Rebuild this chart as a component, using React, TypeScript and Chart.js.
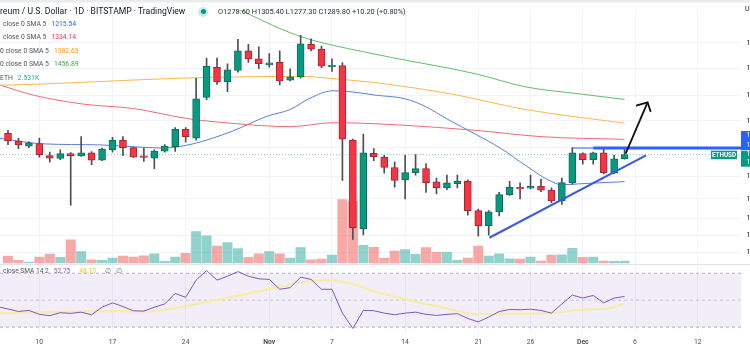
import React, { useEffect, useRef } from 'react';
import { Chart, registerables } from 'chart.js';

Chart.register(...registerables);

const FONT = "Roboto, 'Liberation Sans', sans-serif";

// ---- Daily candles, Oct 7 (day 0) .. Dec 5 (day 59), ETH/USD Bitstamp ----
const open = [1352, 1329, 1314, 1322, 1287, 1279, 1293, 1286, 1295, 1274, 1304, 1331, 1310, 1285, 1280, 1300, 1313, 1364, 1338, 1463, 1564, 1514, 1553, 1622, 1593, 1572, 1581, 1520, 1531, 1645, 1628, 1566, 1570, 1332, 1095, 1294, 1283, 1254, 1220, 1240, 1251, 1215, 1199, 1210, 1216, 1140, 1103, 1137, 1181, 1200, 1198, 1203, 1193, 1165, 1212, 1293, 1276, 1295, 1238, 1278.6];
const high = [1361, 1337, 1328, 1338, 1297, 1304, 1296, 1342, 1299, 1309, 1340, 1342, 1312, 1309, 1304, 1319, 1369, 1369, 1526, 1596, 1596, 1576, 1663, 1645, 1636, 1612, 1622, 1559, 1678, 1665, 1639, 1593, 1580, 1335, 1350, 1307, 1288, 1270, 1288, 1290, 1265, 1225, 1233, 1233, 1220, 1144, 1140, 1187, 1216, 1212, 1233, 1222, 1199, 1225, 1310, 1295, 1297, 1307, 1288, 1305.4];
const low = [1319, 1307, 1310, 1283, 1269, 1276, 1154, 1285, 1262, 1273, 1297, 1287, 1282, 1271, 1251, 1297, 1299, 1326, 1332, 1456, 1506, 1482, 1547, 1581, 1559, 1564, 1504, 1518, 1527, 1621, 1563, 1550, 1219, 1070, 1081, 1273, 1238, 1201, 1170, 1233, 1187, 1183, 1194, 1199, 1129, 1078, 1080, 1127, 1179, 1170, 1196, 1189, 1160, 1156, 1209, 1263, 1263, 1236, 1237, 1277.3];
const close = [1330, 1318, 1324, 1290, 1280, 1293, 1287, 1295, 1274, 1306, 1331, 1310, 1283, 1282, 1300, 1314, 1364, 1342, 1459, 1567, 1514, 1555, 1622, 1593, 1576, 1579, 1518, 1531, 1647, 1628, 1568, 1568, 1335, 1098, 1295, 1284, 1254, 1219, 1240, 1251, 1213, 1199, 1212, 1216, 1140, 1103, 1137, 1181, 1200, 1196, 1203, 1193, 1165, 1213, 1295, 1276, 1295, 1240, 1278, 1289.8];
// volume in thousands of ETH
const volumeK = [9.8, 3.8, 1.4, 8.4, 12.6, 8.0, 33.2, 16.4, 4.6, 3.8, 7.0, 9.8, 8.4, 10.2, 13.0, 2.4, 8.4, 13.6, 44.8, 38.8, 24.2, 29.0, 20.6, 8.0, 13.0, 16.4, 13.0, 7.0, 22.0, 4.6, 5.6, 11.2, 90.6, 88.2, 25.2, 22.4, 7.0, 16.8, 19.2, 12.2, 22.0, 15.0, 15.0, 3.8, 7.0, 24.2, 9.8, 13.0, 6.0, 5.6, 8.4, 2.8, 11.2, 11.6, 21.0, 8.0, 8.4, 2.8, 2.4, 2.531];

// ---- Moving averages (day index, value) ----
const ma20Days = [-0.77, 3.35, 8.8, 12.9, 14.8, 17.7, 21.5, 24.8, 27.0, 28.9, 31.1, 33.0, 35.1, 38.0, 39.9, 42.1, 44.7, 47.2, 49.5, 51.7, 53.0, 54.9, 59.0];
const ma20Vals = [1337, 1321, 1318, 1311, 1309, 1321, 1359, 1404, 1425, 1461, 1485, 1481, 1471, 1459, 1435, 1394, 1350, 1307, 1260, 1220, 1207, 1210, 1215.54];
const ma50Days = [-0.77, 2.4, 7.2, 12.0, 17.1, 21.5, 27.0, 31.1, 35.1, 44.7, 51.1, 59.0];
const ma50Vals = [1504, 1471, 1442, 1428, 1397, 1382, 1372, 1384, 1381, 1361, 1342, 1334.14];
const ma100Days = [-0.77, 3.06, 17.7, 27.9, 31.8, 35.1, 42.5, 49.5, 59.0];
const ma100Vals = [1503, 1507, 1528, 1533, 1523, 1512, 1474, 1425, 1382.63];
const ma200Days = [21.5, 27.9, 35.1, 44.7, 49.5, 54.9, 59.0];
const ma200Vals = [1787, 1675, 1610, 1542, 1498, 1474, 1456.89];

// ---- RSI 14 and its SMA 14 ----
const rsiLeadDay = -0.77;
const rsiLeadVal = 44.8;
const rsi = [43.5, 41.6, 42.4, 39.5, 38.5, 40.7, 40.2, 41.1, 39.2, 44.8, 48.0, 45.3, 42.1, 41.9, 44.8, 47.2, 55.0, 52.1, 64.9, 72.0, 64.9, 67.8, 71.2, 67.8, 65.9, 65.4, 58.1, 59.3, 67.1, 65.4, 58.1, 58.1, 40.4, 29.0, 42.4, 42.2, 40.4, 39.2, 40.4, 41.1, 39.5, 38.7, 39.5, 40.0, 36.4, 33.9, 37.5, 41.6, 43.1, 42.9, 43.3, 42.4, 40.4, 47.2, 53.8, 51.6, 53.5, 48.0, 51.6, 52.75];
const rsiMaDays = [-0.77, 4.0, 8.8, 13.6, 16.7, 20.0, 23.2, 26.3, 28.6, 30.8, 33.0, 35.1, 38.3, 41.5, 45.0, 47.9, 51.7, 54.9, 57.5, 59.0];
const rsiMaVals = [40.4, 41.1, 41.9, 41.9, 45.3, 50.1, 55.2, 60.5, 63.7, 64.7, 61.8, 56.4, 50.1, 44.8, 39.5, 40.0, 40.4, 42.9, 44.0, 47.5];
const rsiLevels = [70, 50, 30];

// ---- Drawings (day index, price) ----
const trendDays = [46.06, 61.05];
const trendPrices = [1074, 1288];
const arrowShaftDays = [59.1, 61.2];
const arrowShaftPrices = [1292.6, 1447.8];
const arrowHeadDays = [60.1, 61.2, 61.5];
const arrowHeadPrices = [1437, 1447.8, 1417.5];
const hLinePrice = 1309;
const hLineThinDays = [54.07, 56];
const hLineThickDays = [56, 70.14];

// ---- Axes ----
const X_MIN = -0.766;
const X_MAX = 70.14;
const tickDays = [3, 10, 17, 25, 31, 38, 45, 50, 55, 60, 66];
const tickLabels = ['10', '17', '24', 'Nov', '7', '14', '21', '26', 'Dec', '6', '12'];
const boldTicks = ['Nov', 'Dec'];
const priceTicks = [1040, 1080, 1120, 1170, 1230, 1310, 1390, 1470, 1560, 1650];
const PRICE_MIN = 870.6;
const PRICE_MAX = 1775.6;
const RSI_MIN = 25.64;
const RSI_MAX = 265.64;
const VOL_MIN = -100.1;
const VOL_MAX = 361.9;
const blueTagTexts = ['1346.20', '1309.00'];
const greenTagTexts = ['1289.80', '10:42:17'];

const N = close.length;
const days = close.map((_, i) => i);
const isUp = days.map((i) => close[i] >= open[i]);
const pts = (xs: number[], ys: number[]) => xs.map((x, i) => ({ x, y: ys[i] }));

const decor = {
  id: 'decor',
  beforeDraw(chart: any) {
    const { ctx } = chart;
    ctx.save();
    ctx.fillStyle = '#ffffff';
    ctx.fillRect(0, 0, chart.width, chart.height);
    ctx.fillStyle = '#e9ebf0';
    ctx.fillRect(0, 0, chart.width, 2.5);
    ctx.restore();
  },
  beforeDatasetsDraw(chart: any) {
    const { ctx } = chart;
    ctx.save();
    ctx.strokeStyle = '#e0e3eb';
    ctx.lineWidth = 1;
    ctx.beginPath();
    ctx.moveTo(0, 264.5);
    ctx.lineTo(chart.width, 264.5);
    ctx.stroke();
    ctx.restore();
  },
  afterDraw(chart: any) {
    const { ctx, chartArea: ca } = chart;
    const ys = chart.scales.y;
    const yl = ys.getPixelForValue(hLinePrice);
    const yc = ys.getPixelForValue(close[N - 1]);
    ctx.save();
    ctx.textBaseline = 'middle';
    ctx.textAlign = 'left';
    ctx.font = `7px ${FONT}`;
    ctx.fillStyle = '#2962ff';
    ctx.fillRect(ca.right, yl - 17, chart.width - ca.right, 19);
    ctx.fillStyle = '#ffffff';
    ctx.fillText(blueTagTexts[0], ca.right + 5.5, yl - 12.5);
    ctx.fillText(blueTagTexts[1], ca.right + 5.5, yl - 3);
    ctx.fillStyle = '#089981';
    ctx.fillRect(ca.right, yc - 4, chart.width - ca.right, 16);
    ctx.fillStyle = '#ffffff';
    ctx.fillText(greenTagTexts[0], ca.right + 5.5, yc);
    ctx.fillText(greenTagTexts[1], ca.right + 5.5, yc + 7.5);
    ctx.fillStyle = '#089981';
    ctx.fillRect(ca.right - 30, yc - 4, 26, 8.5);
    ctx.fillStyle = '#ffffff';
    ctx.font = `bold 6.3px ${FONT}`;
    ctx.textAlign = 'center';
    ctx.fillText('ETHUSD', ca.right - 17, yc + 0.3);
    ctx.restore();
  },
};

const lineDs = (label: string, data: any[], color: string, width: number, axis: string, order: number, extra: any = {}) => ({
  type: 'line' as const,
  label,
  data,
  yAxisID: axis,
  borderColor: color,
  borderWidth: width,
  pointRadius: 0,
  fill: false,
  order,
  ...extra,
});

function buildConfig(): any {
  const datasets: any[] = [
    {
      type: 'bar',
      label: 'Volume',
      data: days.map((i) => ({ x: i, y: volumeK[i] })),
      yAxisID: 'yv',
      backgroundColor: days.map((i) => (isUp[i] ? 'rgba(38,166,154,0.5)' : 'rgba(239,83,80,0.5)')),
      barThickness: 9.4,
      grouped: false,
      order: 100,
    },
    lineDs('MA 200', pts(ma200Days, ma200Vals), '#66bb6a', 1, 'y', 50, { cubicInterpolationMode: 'monotone' }),
    lineDs('MA 100', pts(ma100Days, ma100Vals), '#ffb74d', 1, 'y', 50, { cubicInterpolationMode: 'monotone' }),
    lineDs('MA 50', pts(ma50Days, ma50Vals), '#ef6b73', 1, 'y', 50, { cubicInterpolationMode: 'monotone' }),
    lineDs('MA 20', pts(ma20Days, ma20Vals), '#5b7fdc', 1, 'y', 50, { cubicInterpolationMode: 'monotone' }),
    lineDs('Last', [{ x: X_MIN, y: close[N - 1] }, { x: X_MAX, y: close[N - 1] }], 'rgba(8,153,129,0.55)', 1, 'y', 45, { borderDash: [1, 2] }),
    {
      type: 'bar',
      label: 'Wicks',
      data: days.map((i) => ({ x: i, y: [low[i], high[i]] })),
      yAxisID: 'y',
      backgroundColor: '#4d4f57',
      barThickness: 1,
      grouped: false,
      order: 20,
    },
    {
      type: 'bar',
      label: 'Bodies',
      data: days.map((i) => ({ x: i, y: [open[i], close[i]] })),
      yAxisID: 'y',
      backgroundColor: days.map((i) => (isUp[i] ? '#089981' : '#f23645')),
      borderColor: days.map((i) => (isUp[i] ? '#0a6e5d' : '#a82530')),
      borderWidth: 1,
      borderSkipped: false,
      minBarLength: 1.5,
      barThickness: 7,
      grouped: false,
      order: 10,
    },
    lineDs('Trend', pts(trendDays, trendPrices), '#3a5bd9', 2, 'y', 2),
    lineDs('HThin', hLineThinDays.map((x) => ({ x, y: hLinePrice })), '#2962ff', 1.2, 'y', 2),
    lineDs('HThick', hLineThickDays.map((x) => ({ x, y: hLinePrice })), '#2962ff', 3, 'y', 2),
    lineDs('Arrow', pts(arrowShaftDays, arrowShaftPrices), '#111111', 1.8, 'y', 1),
    lineDs('ArrowHead', pts(arrowHeadDays, arrowHeadPrices), '#111111', 1.8, 'y', 1),
    // RSI pane
    lineDs('RSI70', [{ x: X_MIN, y: rsiLevels[0] }, { x: X_MAX, y: rsiLevels[0] }], 'rgba(120,123,134,0.55)', 1, 'yr', 60, {
      borderDash: [3, 3],
      fill: '+1',
      backgroundColor: 'rgba(126,87,194,0.1)',
    }),
    lineDs('RSI30', [{ x: X_MIN, y: rsiLevels[2] }, { x: X_MAX, y: rsiLevels[2] }], 'rgba(120,123,134,0.55)', 1, 'yr', 60, { borderDash: [3, 3] }),
    lineDs('RSI50', [{ x: X_MIN, y: rsiLevels[1] }, { x: X_MAX, y: rsiLevels[1] }], 'rgba(120,123,134,0.35)', 1, 'yr', 60, { borderDash: [3, 3] }),
    lineDs('RSI MA', pts(rsiMaDays, rsiMaVals), 'rgba(246,236,160,0.95)', 2.2, 'yr', 30, { cubicInterpolationMode: 'monotone' }),
    lineDs('RSI', [{ x: rsiLeadDay, y: rsiLeadVal }, ...days.map((i) => ({ x: i, y: rsi[i] }))], '#7e57c2', 1, 'yr', 25),
  ];

  return {
    type: 'bar',
    data: { datasets },
    plugins: [decor],
    options: {
      responsive: false,
      maintainAspectRatio: false,
      animation: false,
      events: [],
      layout: { padding: { top: 3, left: 0, right: 0, bottom: 0 } },
      plugins: { legend: { display: false }, tooltip: { enabled: false } },
      elements: { point: { radius: 0 } },
      scales: {
        x: {
          type: 'linear',
          min: X_MIN,
          max: X_MAX,
          offset: false,
          bounds: 'data',
          border: { display: false },
          grid: { color: '#f0f3fa', drawTicks: false, offset: false },
          afterBuildTicks: (s: any) => {
            s.ticks = tickDays.map((v) => ({ value: v }));
          },
          afterFit: (s: any) => {
            s.height = 20;
          },
          ticks: {
            autoSkip: false,
            maxRotation: 0,
            minRotation: 0,
            padding: 5,
            color: '#4a4e5a',
            font: (c: any) => {
              const idx = c && c.tick ? tickDays.indexOf(c.tick.value) : -1;
              const bold = idx >= 0 && boldTicks.includes(tickLabels[idx]);
              return { family: FONT, size: 6.8, weight: bold ? 'bold' : 'normal' };
            },
            callback: (v: any) => {
              const idx = tickDays.indexOf(Number(v));
              return idx >= 0 ? tickLabels[idx] : '';
            },
          },
        },
        y: {
          type: 'logarithmic',
          position: 'right',
          min: PRICE_MIN,
          max: PRICE_MAX,
          bounds: 'data',
          beginAtZero: false,
          border: { display: false },
          grid: { color: '#f0f3fa', drawTicks: false },
          afterBuildTicks: (s: any) => {
            s.ticks = priceTicks.map((v) => ({ value: v }));
          },
          afterFit: (s: any) => {
            s.width = 59;
          },
          ticks: {
            autoSkip: false,
            padding: 5.5,
            color: '#131722',
            font: { family: FONT, size: 7 },
            callback: (v: any) => Number(v).toFixed(2),
          },
        },
        yr: { type: 'linear', display: false, position: 'right', min: RSI_MIN, max: RSI_MAX, bounds: 'data' },
        yv: { type: 'linear', display: false, position: 'right', min: VOL_MIN, max: VOL_MAX, bounds: 'data', beginAtZero: false },
      },
    },
  };
}

type TxtProps = { x: number; y: number; size?: number; color?: string; weight?: number | string; prefix?: string; children?: any };
const Txt = ({ x, y, size = 7, color = '#131722', weight = 400, prefix, children }: TxtProps) => (
  <div
    style={{
      position: 'absolute',
      left: x,
      top: y - size * 0.65,
      fontSize: size,
      lineHeight: `${size * 1.3}px`,
      color,
      fontWeight: weight as any,
      whiteSpace: 'nowrap',
      fontFamily: FONT,
    }}
  >
    {prefix ? <span style={{ position: 'absolute', right: '100%', top: 0, whiteSpace: 'pre' }}>{prefix}</span> : null}
    {children}
  </div>
);

const legendRows = [
  { prefix: 'MA 20  ', label: 'close 0 SMA 5', value: '1215.54', color: '#2962ff', x: 3, y: 24.3 },
  { prefix: 'MA 50  ', label: 'close 0 SMA 5', value: '1334.14', color: '#f23645', x: 3, y: 37.7 },
  { prefix: 'MA 10', label: '0 close 0 SMA 5', value: '1382.63', color: '#ff9800', x: 0, y: 51 },
  { prefix: 'MA 20', label: '0 close 0 SMA 5', value: '1456.89', color: '#43a047', x: 0, y: 64.3 },
  { prefix: 'Vol · ', label: 'ETH', value: '2.531K', color: '#26a69a', x: 0, y: 78.3 },
];

export default function App() {
  const ref = useRef<HTMLCanvasElement>(null);
  useEffect(() => {
    if (!ref.current) return;
    const chart = new Chart(ref.current, buildConfig());
    return () => chart.destroy();
  }, []);
  return (
    <div style={{ position: 'fixed', left: 0, top: 0, width: 750, height: 353, overflow: 'hidden', background: '#fff', fontFamily: FONT }}>
      <canvas ref={ref} width={800} height={353} style={{ position: 'absolute', left: 0, top: 0, width: 800, height: 353 }} />
      <Txt x={0} y={11.5} size={8.6} prefix="Ethe">reum / U.S. Dollar · 1D · BITSTAMP · TradingView</Txt>
      <div style={{ position: 'absolute', left: 198, top: 6.5, width: 10, height: 10, borderRadius: 5, background: 'rgba(8,153,129,0.22)' }} />
      <div style={{ position: 'absolute', left: 200.5, top: 9, width: 5, height: 5, borderRadius: 2.5, background: '#089981' }} />
      <Txt x={218} y={11.5} size={7.4} color="#2a2e39">O1278.60 H1305.40 L1277.30 C1289.80 +10.20 (+0.80%)</Txt>
      {legendRows.map((r) => (
        <Txt key={r.value} x={r.x} y={r.y} size={6.8} color="#50535e" prefix={r.prefix}>
          {r.label}
          <span style={{ color: r.color, marginLeft: 5 }}>{r.value}</span>
        </Txt>
      ))}
      <Txt x={3} y={271} size={6.6} color="#50535e" prefix="RSI 14  ">
        close SMA 14 2
        <span style={{ color: '#7e57c2', marginLeft: 5 }}>52.75</span>
        <span style={{ color: '#e3c43c', marginLeft: 9 }}>48.10</span>
        <span style={{ color: '#787b86', marginLeft: 9 }}>∅</span>
        <span style={{ color: '#787b86', marginLeft: 5 }}>∅</span>
      </Txt>
      <Txt x={745} y={10} size={7} color="#131722">USD</Txt>
    </div>
  );
}
